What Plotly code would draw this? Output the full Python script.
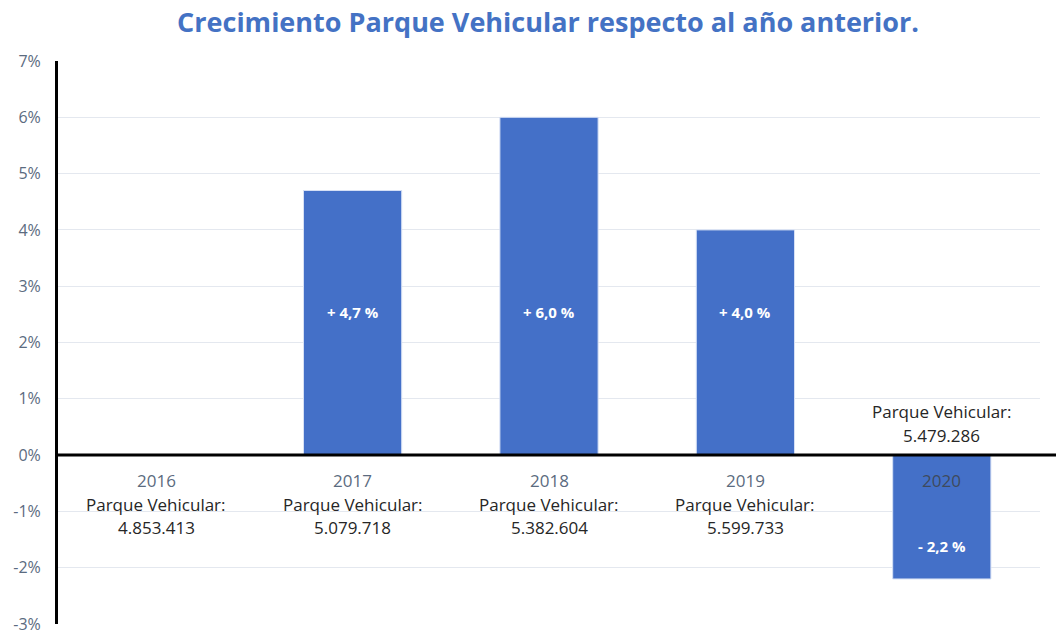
import plotly.graph_objects as go

years = ["2016", "2017", "2018", "2019", "2020"]
growth = [None, 4.7, 6.0, 4.0, -2.2]
growth_labels = ["", "+ 4,7 %", "+ 6,0 %", "+ 4,0 %", "- 2,2 %"]
parque = [4853413, 5079718, 5382604, 5599733, 5479286]
y_ticks = [-3, -2, -1, 0, 1, 2, 3, 4, 5, 6, 7]

def fmt(n):
    return f"{n:,}".replace(",", ".")

FONT = "'Open Sans', sans-serif"
BLUE = "#4472C4"

fig = go.Figure()
fig.add_trace(go.Bar(
    x=list(range(len(years))), y=growth, width=0.5,
    marker=dict(color="#4470C8", line=dict(color="#D6E0F5", width=1)),
    hoverinfo="skip",
))

annotations = []
for i, (yr, g, lab, p) in enumerate(zip(years, growth, growth_labels, parque)):
    if g is not None:
        ylab = 2.55 if g >= 0 else -1.62
        annotations.append(dict(x=i, y=ylab, text=f"<b>{lab}</b>", showarrow=False,
                                font=dict(color="white", size=15, family=FONT)))
    if g is not None and g < 0:
        annotations.append(dict(x=i, y=-0.45, text=yr, showarrow=False,
                                font=dict(color="#3E4A5C", size=17, family=FONT)))
        annotations.append(dict(x=i, y=0.77, text="Parque Vehicular:", showarrow=False,
                                font=dict(color="#262626", size=17, family=FONT)))
        annotations.append(dict(x=i, y=0.34, text=fmt(p), showarrow=False,
                                font=dict(color="#262626", size=17, family=FONT)))
    else:
        annotations.append(dict(x=i, y=-0.45, text=yr, showarrow=False,
                                font=dict(color="#5B6B80", size=17, family=FONT)))
        annotations.append(dict(x=i, y=-0.88, text="Parque Vehicular:", showarrow=False,
                                font=dict(color="#262626", size=17, family=FONT)))
        annotations.append(dict(x=i, y=-1.28, text=fmt(p), showarrow=False,
                                font=dict(color="#262626", size=17, family=FONT)))

fig.update_layout(
    width=1056, height=633,
    margin=dict(l=58, r=16, t=61, b=9, autoexpand=False),
    paper_bgcolor="white", plot_bgcolor="white",
    showlegend=False,
    title=dict(text="<b>Crecimiento Parque Vehicular respecto al año anterior.</b>",
               x=0.519, xanchor="center", y=0.965, yanchor="middle",
               font=dict(family=FONT, size=27, color=BLUE)),
    annotations=annotations,
    xaxis=dict(range=[-0.5, 4.5], showticklabels=False, showgrid=False,
               zeroline=False, showline=False, fixedrange=True, automargin=False),
    yaxis=dict(range=[-3, 7], tickvals=y_ticks,
               ticktext=[f"{v}%" for v in y_ticks],
               tickfont=dict(family=FONT, size=16, color="#5B6B80"),
               showgrid=True, gridcolor="#E4E8EF", gridwidth=1,
               zeroline=False, showline=True, linecolor="black", linewidth=3,
               ticks="", ticklen=0, ticklabelstandoff=11,
               ticklabeloverflow="allow", automargin=False, fixedrange=True),
    shapes=[dict(type="line", xref="paper", yref="y", x0=0, x1=1.0163, y0=0, y1=0,
                 line=dict(color="black", width=3), layer="above")],
)

fig.write_html("out.html", config={"displayModeBar": False},
               post_script="document.body.style.margin='0';document.body.style.overflow='hidden';")
